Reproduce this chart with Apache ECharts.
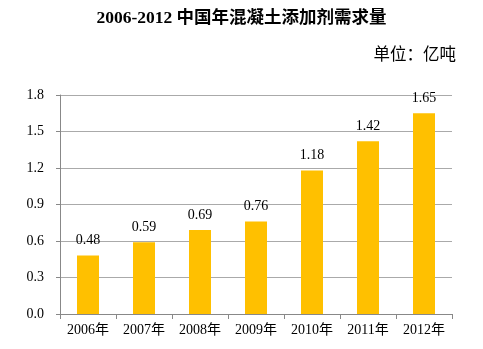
<!DOCTYPE html>
<html><head><meta charset="utf-8">
<script src="https://cdn.jsdelivr.net/npm/echarts@6/dist/echarts.min.js"></script>
<style>html,body{margin:0;padding:0;background:#fff}#c{width:483px;height:349px}</style>
</head><body><div id="c"></div>
<script>
const categories = ['2006年','2007年','2008年','2009年','2010年','2011年','2012年'];
const values = [0.48, 0.59, 0.69, 0.76, 1.18, 1.42, 1.65];
const titleText = '2006-2012 中国年混凝土添加剂需求量';
const unitText = '单位：亿吨';
const chart = echarts.init(document.getElementById('c'));
const serif = '"Liberation Serif","Noto Sans CJK SC",serif';
chart.setOption({
  animation:false,
  title:[
    {text:titleText,left:'center',top:5,textStyle:{fontFamily:serif,fontSize:17.5,fontWeight:'bold',color:'#000'}},
    {text:unitText,right:22,top:40,textStyle:{fontFamily:'"Noto Sans CJK SC",sans-serif',fontSize:16.5,fontWeight:'normal',color:'#000'}}
  ],
  grid:{left:60,right:31,top:95,bottom:35,containLabel:false},
  xAxis:{type:'category',data:categories,
    axisLine:{lineStyle:{color:'#888'}},
    axisTick:{show:true,alignWithLabel:false,length:5,lineStyle:{color:'#888'}},
    axisLabel:{fontFamily:serif,fontSize:14,color:'#000',margin:9,interval:0}},
  yAxis:{type:'value',min:0,max:1.8,interval:0.3,
    axisLine:{show:true,lineStyle:{color:'#888'}},
    axisTick:{show:true,length:4,lineStyle:{color:'#888'}},
    splitLine:{lineStyle:{color:'#aaa'}},
    axisLabel:{fontFamily:serif,fontSize:14,color:'#000',margin:16,formatter:v=>v.toFixed(1)}},
  series:[{type:'bar',data:values,barWidth:22,itemStyle:{color:'#FFC000'},
    label:{show:true,position:'top',distance:8,fontFamily:serif,fontSize:14,color:'#000',formatter:p=>p.value.toFixed(2)}}]
});
</script></body></html>
